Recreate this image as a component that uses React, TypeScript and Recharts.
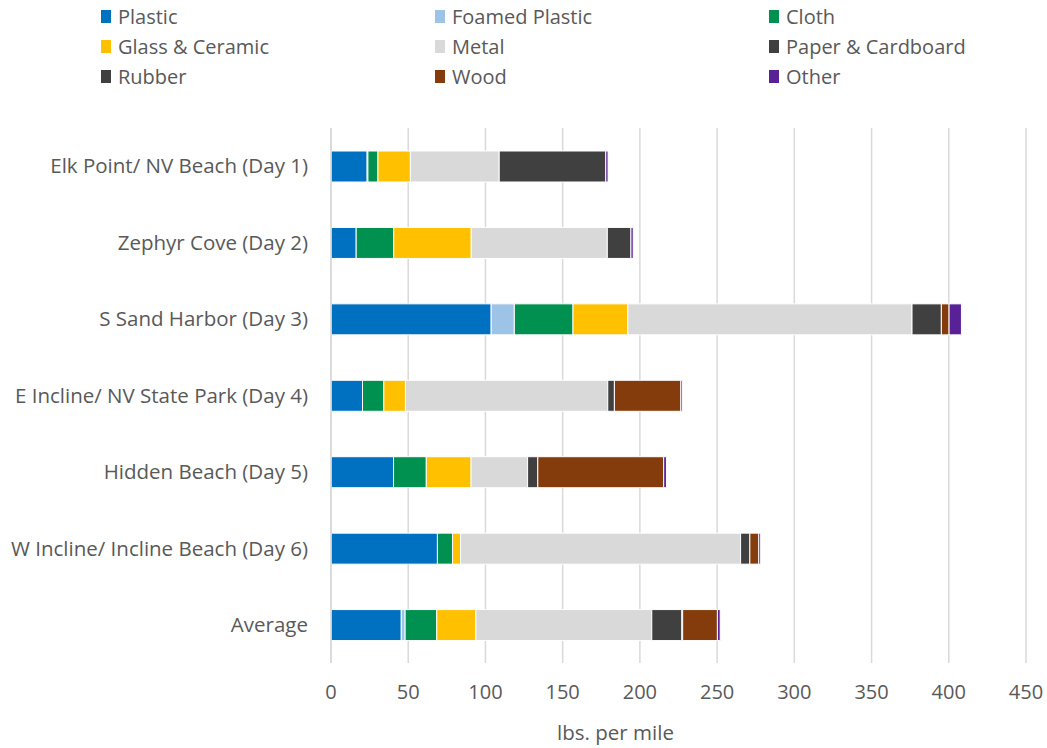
import React from 'react';
import { BarChart, Bar, XAxis, YAxis, CartesianGrid, Label } from 'recharts';

const sites = [
  'Elk Point/ NV Beach (Day 1)',
  'Zephyr Cove (Day 2)',
  'S Sand Harbor (Day 3)',
  'E Incline/ NV State Park (Day 4)',
  'Hidden Beach (Day 5)',
  'W Incline/ Incline Beach (Day 6)',
  'Average',
];

// lbs. per mile, one entry per site (same order as above)
const plastic = [23.4, 16.3, 103.7, 20.4, 40.5, 68.9, 45.5];
const foamedPlastic = [0.5, 0, 15, 0, 0, 0, 2.5];
const cloth = [6.5, 24.3, 38, 13.8, 21.2, 9.8, 20.5];
const glassCeramic = [21, 50.2, 35.5, 14, 29, 5.2, 25.3];
const metal = [57.5, 88.1, 184, 131, 36.6, 181.3, 113.9];
const paperCardboard = [69, 15.3, 19, 4.3, 6.6, 6, 19.5];
const rubber = [0, 0, 0, 0, 0, 0, 0.5];
const wood = [0, 0, 5, 43, 81.5, 5.8, 22.5];
const other = [1.5, 1.5, 8, 1, 1.8, 1.2, 1.8];

const xTicks = [0, 50, 100, 150, 200, 250, 300, 350, 400, 450];

const series = [
  { key: 'Plastic', values: plastic, color: '#0070C0' },
  { key: 'Foamed Plastic', values: foamedPlastic, color: '#9DC3E6' },
  { key: 'Cloth', values: cloth, color: '#00904F' },
  { key: 'Glass & Ceramic', values: glassCeramic, color: '#FFC000' },
  { key: 'Metal', values: metal, color: '#D9D9D9' },
  { key: 'Paper & Cardboard', values: paperCardboard, color: '#404040' },
  { key: 'Rubber', values: rubber, color: '#404040' },
  { key: 'Wood', values: wood, color: '#843C0C' },
  { key: 'Other', values: other, color: '#582196' },
];

const data = sites.map((name, i) => {
  const row: Record<string, any> = { name };
  series.forEach((s) => {
    row[s.key] = s.values[i];
  });
  return row;
});

const FONT = '"Open Sans", sans-serif';
const TEXT = '#595959';

// legend sits above the plot in a 3-column grid
const ChartLegend = () => (
  <div
    style={{
      position: 'absolute',
      top: 1,
      left: 0,
      display: 'grid',
      gridTemplateColumns: '334px 334px 334px',
      gridAutoRows: '30px',
      paddingLeft: 101,
      fontFamily: FONT,
      fontSize: 20,
      color: TEXT,
    }}
  >
    {series.map((s) => (
      <div key={s.key} style={{ display: 'flex', alignItems: 'center' }}>
        <span style={{ width: 10, height: 13, background: s.color, marginRight: 7, display: 'inline-block' }} />
        <span>{s.key}</span>
      </div>
    ))}
  </div>
);

export default function App() {
  return (
    <div style={{ position: 'absolute', left: 0, top: 0, width: 1047, height: 748, background: '#fff' }}>
      <BarChart
        width={1047}
        height={748}
        data={data}
        layout="vertical"
        margin={{ top: 128, right: 21, left: 0, bottom: 0 }}
        barSize={31}
      >
        <CartesianGrid horizontal={false} stroke="#D9D9D9" strokeWidth={1.5} />
        <XAxis
          type="number"
          domain={[0, 450]}
          ticks={xTicks}
          height={85}
          axisLine={false}
          tickLine={false}
          tickMargin={16}
          tick={{ fill: TEXT, fontSize: 20, fontFamily: FONT }}
        >
          <Label
            value="lbs. per mile"
            position="insideBottom"
            offset={8}
            dx={-63}
            style={{ fill: TEXT, fontSize: 20.5, fontFamily: FONT }}
          />
        </XAxis>
        <YAxis
          type="category"
          dataKey="name"
          width={331}
          axisLine={{ stroke: '#D9D9D9', strokeWidth: 1.5 }}
          tickLine={false}
          tickMargin={17}
          tick={{ fill: TEXT, fontSize: 20.5, fontFamily: FONT }}
          interval={0}
        />
        {series.map((s) => (
          <Bar
            key={s.key}
            dataKey={s.key}
            stackId="a"
            fill={s.color}
            stroke="#fff"
            strokeWidth={1}
            isAnimationActive={false}
          />
        ))}
      </BarChart>
      <ChartLegend />
    </div>
  );
}
